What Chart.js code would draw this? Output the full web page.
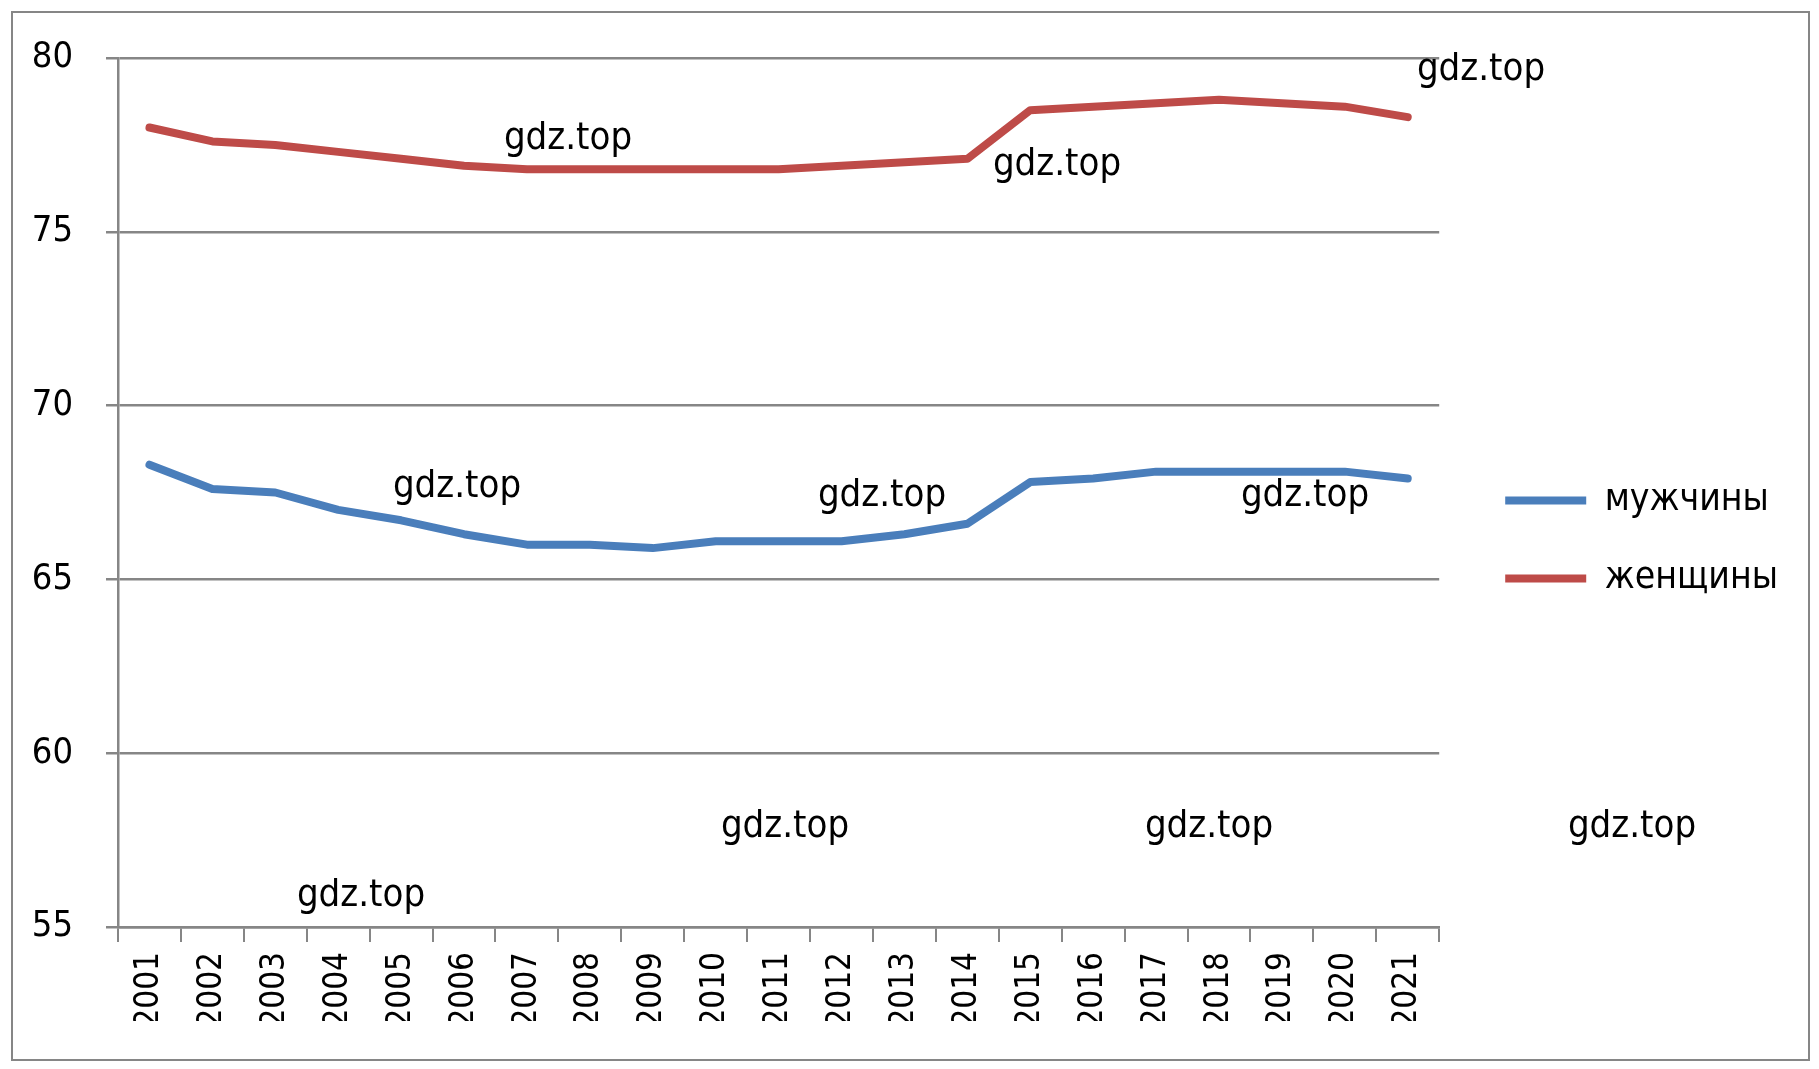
<!DOCTYPE html>
<html>
<head>
<meta charset="utf-8">
<script src="https://cdn.jsdelivr.net/npm/chart.js@4"></script>
<style>
    body { margin: 0; background: #fff; }
    #frame {
        position: absolute;
        left: 11px;
        top: 11px;
        width: 1795px;
        height: 1046px;
        border: 2px solid #868686;
    }
</style>
</head>
<body>
<div id="frame"><canvas id="chart"></canvas></div>
<script>
const years = ['2001', '2002', '2003', '2004', '2005', '2006', '2007', '2008', '2009', '2010', '2011',
    '2012', '2013', '2014', '2015', '2016', '2017', '2018', '2019', '2020', '2021'];
const men = [68.3, 67.6, 67.5, 67.0, 66.7, 66.3, 66.0, 66.0, 65.9, 66.1, 66.1,
    66.1, 66.3, 66.6, 67.8, 67.9, 68.1, 68.1, 68.1, 68.1, 67.9];
const women = [78.0, 77.6, 77.5, 77.3, 77.1, 76.9, 76.8, 76.8, 76.8, 76.8, 76.8,
    76.9, 77.0, 77.1, 78.5, 78.6, 78.7, 78.8, 78.7, 78.6, 78.3];
const seriesNames = ['мужчины', 'женщины'];
const yTicks = [55, 60, 65, 70, 75, 80];

const gridGray = '#868686';
const font = '"DejaVu Sans Condensed", "DejaVu Sans", sans-serif';

// watermark text scattered over the picture (canvas pixels)
const marks = [
    [555, 126], [1044, 152], [1468, 57], [444, 474], [869, 483],
    [1292, 483], [772, 814], [1196, 814], [1619, 814], [348, 883]
];

const watermarkPlugin = {
    id: 'watermark',
    afterDraw(chart) {
        const ctx = chart.ctx;
        ctx.save();
        ctx.font = '38px ' + font;
        ctx.fillStyle = '#000';
        ctx.textAlign = 'center';
        ctx.textBaseline = 'middle';
        marks.forEach(([x, y]) => ctx.fillText('gdz.top', x, y));
        ctx.restore();
    }
};

const ctx = document.getElementById('chart').getContext('2d');

new Chart(ctx, {
    type: 'line',
    data: {
        labels: years,
        datasets: [{
            label: seriesNames[0],
            data: men,
            borderColor: '#4a7ebb',
            backgroundColor: '#4a7ebb',
            borderWidth: 8,
            borderCapStyle: 'round',
            borderJoinStyle: 'round',
            pointRadius: 0,
            tension: 0
        }, {
            label: seriesNames[1],
            data: women,
            borderColor: '#be4b48',
            backgroundColor: '#be4b48',
            borderWidth: 8,
            borderCapStyle: 'round',
            borderJoinStyle: 'round',
            pointRadius: 0,
            tension: 0
        }]
    },
    options: {
        responsive: true,
        maintainAspectRatio: false,
        animation: false,
        layout: {
            padding: { top: 45, right: 20, bottom: 38, left: 0 }
        },
        scales: {
            x: {
                offset: true,
                grid: {
                    offset: true,
                    drawOnChartArea: false,
                    drawTicks: true,
                    tickLength: 15,
                    color: gridGray,
                    lineWidth: 2
                },
                border: { color: gridGray, width: 2.5 },
                ticks: {
                    minRotation: 90,
                    maxRotation: 90,
                    autoSkip: false,
                    padding: 10,
                    color: '#000',
                    font: { family: font, size: 33 }
                },
                afterFit: (scale) => { scale.height = 94; }
            },
            y: {
                min: 55,
                max: 80,
                afterBuildTicks: (scale) => {
                    scale.ticks = yTicks.map(v => ({ value: v }));
                },
                grid: {
                    color: gridGray,
                    lineWidth: 2.5,
                    tickLength: 12
                },
                border: { color: gridGray, width: 2.5 },
                ticks: {
                    padding: 33,
                    color: '#000',
                    font: { family: font, size: 36 }
                },
                afterFit: (scale) => {
                    scale.width = 105;
                    scale.paddingTop = 0;
                    scale.paddingBottom = 0;
                }
            },
            gap: {
                position: 'right',
                display: true,
                grid: { display: false },
                border: { display: false },
                ticks: { display: false },
                afterFit: (scale) => { scale.width = 25; }
            }
        },
        plugins: {
            legend: {
                position: 'right',
                maxWidth: 500,
                labels: {
                    usePointStyle: true,
                    pointStyle: 'line',
                    pointStyleWidth: 81,
                    padding: 41,
                    color: '#000',
                    font: { family: font, size: 37 }
                }
            },
            tooltip: { enabled: false }
        }
    },
    plugins: [watermarkPlugin]
});
</script>
</body>
</html>
